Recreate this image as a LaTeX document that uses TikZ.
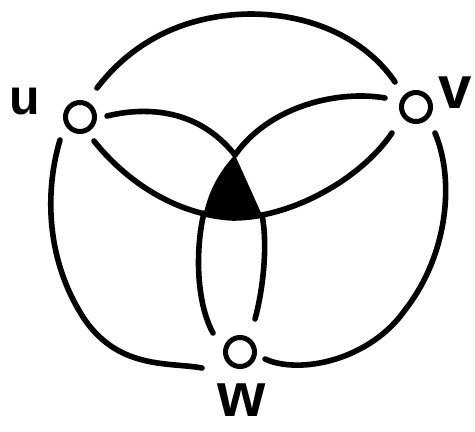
\documentclass[tikz,border=0pt]{standalone}
\usepackage{fontspec}
\setmainfont{Liberation Sans}
\usetikzlibrary{calc}
\begin{document}
\begin{tikzpicture}[x=1pt,y=-1pt,
  vert/.style={circle, draw, line width=5pt, minimum size=29pt, inner sep=0pt},
  lbl/.style={inner sep=0pt},
  curv/.style={draw, line width=5.6pt, line cap=round}]
\useasboundingbox (0,0) rectangle (475,432);
\node[vert] (u) at (80,117) {};
\node[vert] (v) at (416,107) {};
\node[vert] (w) at (240,352) {};
\node[lbl, font=\bfseries\fontsize{50}{50}\selectfont] (lu) at (25,102) {u};
\node[lbl, font=\bfseries\fontsize{60}{60}\selectfont] (lv) at (455,93) {v};
\node[lbl, font=\bfseries\fontsize{62}{62}\selectfont] (lw) at (242,400) {w};
\coordinate (t) at (235,155);
\coordinate (tl) at (204,213);
\coordinate (tr) at (262,215);
\coordinate (b) at (233,218);
% black triangle
\fill (t) .. controls (225,165) and (210,185) .. (tl) -- (233,220) -- (tr) -- cycle;
% outer top arc u-v
\draw[curv] ($(u)+(17,-29)$) .. controls (130,45) and (180,15) .. (250,14)
  .. controls (320,14) and (370,45) .. ($(v)+(-21,-25)$);
% u to apex
\draw[curv] ($(u)+(27,-1)$) .. controls (140,108) and (195,105) .. (t);
% v to apex
\draw[curv] ($(v)+(-31,-9)$) .. controls (340,90) and (270,105) .. (t);
% lower arc u - v through triangle base
\draw[curv] ($(u)+(14,24)$) .. controls (125,180) and (175,215) .. (b)
  .. controls (290,218) and (360,180) .. ($(v)+(-24,26)$);
% triangle base to w
\draw[curv] (tl) .. controls (196,245) and (195,300) .. ($(w)+(-27,-19)$);
\draw[curv] (tr) .. controls (268,245) and (263,290) .. ($(w)+(15,-33)$);
% outer left u-w
\draw[curv] ($(u)+(-20,23)$) .. controls (45,190) and (45,260) .. (85,320)
  .. controls (120,370) and (170,362) .. ($(w)+(-38,16)$);
% outer right v-w
\draw[curv] ($(v)+(19,26)$) .. controls (455,180) and (448,255) .. (405,310)
  .. controls (370,360) and (300,375) .. ($(w)+(25,7)$);
\end{tikzpicture}
\end{document}
